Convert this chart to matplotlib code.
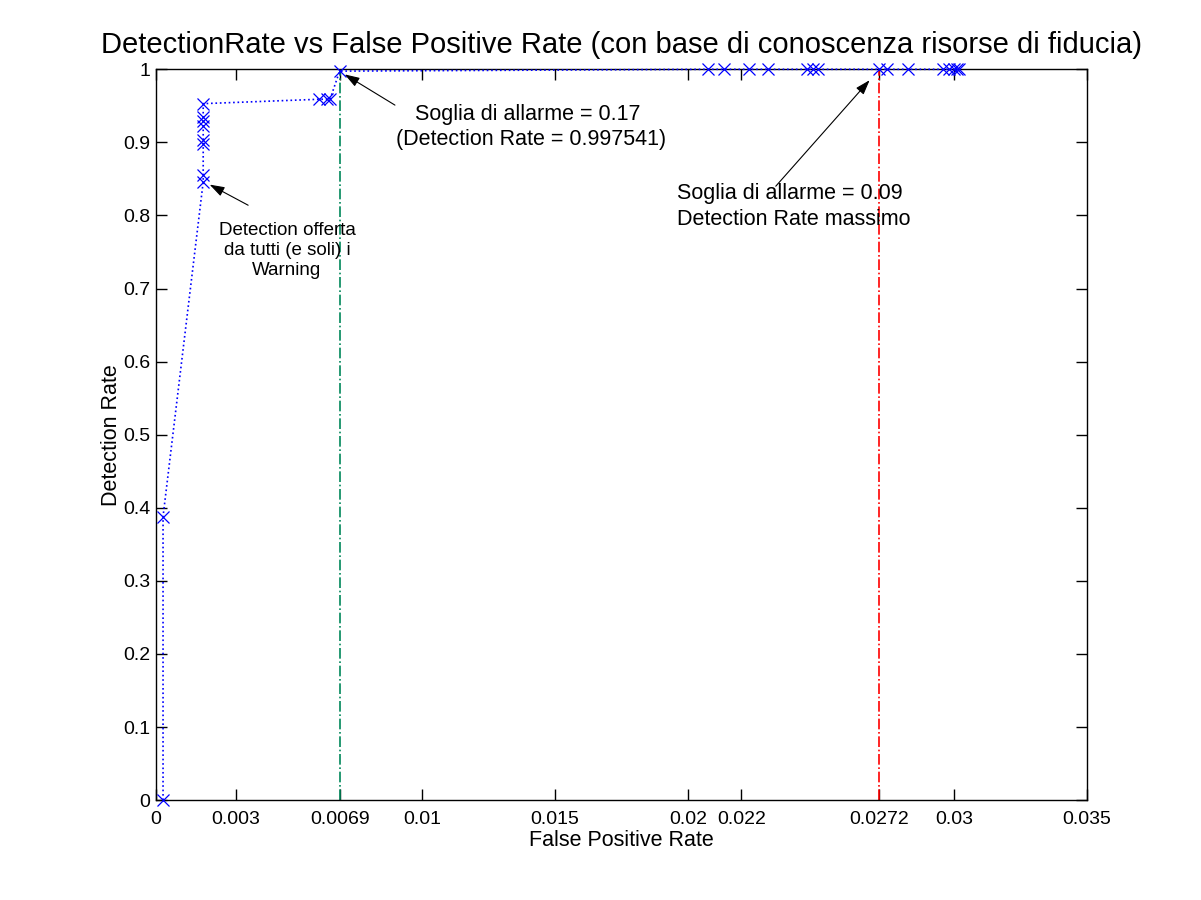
import matplotlib
matplotlib.use("Agg")
from matplotlib import pyplot as plt  # noqa

plt.rcParams['font.family'] = ['Liberation Sans', 'DejaVu Sans']

# false positive rate / detection rate pairs
fpr = [0.00026, 0.00026, 0.00177, 0.00177, 0.00177, 0.00177, 0.00177, 0.00177,
       0.00177, 0.00177, 0.00613, 0.00643, 0.00654, 0.0069,
       0.02075, 0.02136, 0.0223, 0.0230, 0.02447, 0.0247, 0.0249,
       0.02718, 0.0275, 0.02827, 0.0296, 0.0298, 0.0300, 0.0301, 0.0302]
detection = [0.0, 0.388, 0.846, 0.855, 0.898, 0.903, 0.922, 0.929,
             0.935, 0.953, 0.959, 0.959, 0.959, 0.9975,
             1.0, 1.0, 1.0, 1.0, 1.0, 1.0, 1.0,
             1.0, 1.0, 1.0, 1.0, 1.0, 1.0, 1.0, 1.0]

x_ticks = [0, 0.003, 0.0069, 0.01, 0.015, 0.02, 0.022, 0.0272, 0.03, 0.035]
x_tick_labels = ['0', '0.003', '0.0069', '0.01', '0.015', '0.02', '0.022', '0.0272', '0.03', '0.035']
y_ticks = [0, 0.1, 0.2, 0.3, 0.4, 0.5, 0.6, 0.7, 0.8, 0.9, 1]
y_tick_labels = ['0', '0.1', '0.2', '0.3', '0.4', '0.5', '0.6', '0.7', '0.8', '0.9', '1']

thr_017 = 0.0069
thr_009 = 0.0272

fig = plt.figure(figsize=(12.01, 9), dpi=100)
ax = fig.add_axes([0.130, 0.111, 0.775, 0.812])

ax.plot(fpr, detection, color='b', linestyle=':', linewidth=1.2,
        marker='x', markersize=8, markeredgewidth=0.9, clip_on=False, zorder=3)
ax.axvline(thr_017, color='#00875a', linestyle='-.', linewidth=1.2)
ax.axvline(thr_009, color='r', linestyle='-.', linewidth=1.2)

ax.set_xlim(0, 0.035)
ax.set_ylim(0, 1)
ax.set_xticks(x_ticks)
ax.set_xticklabels(x_tick_labels)
ax.set_yticks(y_ticks)
ax.set_yticklabels(y_tick_labels)
ax.tick_params(direction='in', length=8, width=1, top=True, right=True,
               labelsize=14)
ax.tick_params(axis='x', pad=8)
ax.tick_params(axis='y', pad=4)
for s in ax.spines.values():
    s.set_linewidth(1)

ax.set_title('DetectionRate vs False Positive Rate (con base di conoscenza risorse di fiducia)',
             fontsize=21, pad=12)
ax.set_xlabel('False Positive Rate', fontsize=15.5, labelpad=1)
ax.set_ylabel('Detection Rate', fontsize=15.5, labelpad=1)

arrow = dict(arrowstyle='-|>,head_length=0.9,head_width=0.3', color='k',
             lw=0.8, shrinkA=0, shrinkB=2)

ax.text(0.01399, 0.921, 'Soglia di allarme = 0.17\n (Detection Rate = 0.997541)',
        fontsize=15.5, ha='center', va='center', linespacing=1.3)
ax.annotate('', xy=(thr_017 + 0.0001, 0.995), xytext=(0.00898, 0.951),
            arrowprops=arrow)

ax.text(0.0196, 0.8125, 'Soglia di allarme = 0.09\nDetection Rate massimo',
        fontsize=15.5, ha='left', va='center', linespacing=1.3)
ax.annotate('', xy=(0.0269, 0.988), xytext=(0.0233, 0.84),
            arrowprops=arrow)

ax.text(0.00492, 0.752, 'Detection offerta\nda tutti (e soli) i\nWarning',
        fontsize=13.5, ha='center', va='center', linespacing=1.2)
ax.annotate('', xy=(0.00192, 0.844), xytext=(0.00346, 0.814),
            arrowprops=arrow)

fig.savefig('out.png', dpi=100)
